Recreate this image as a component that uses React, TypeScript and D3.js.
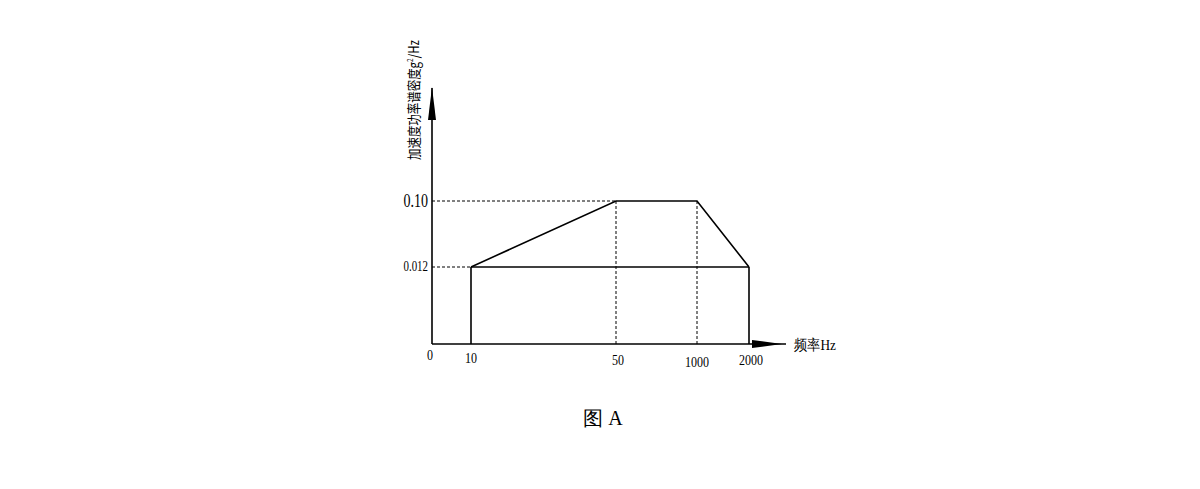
import React from "react";
import * as d3 from "d3";

const freqs = [0, 10, 50, 1000, 2000];
const freqLabels = ["0", "10", "50", "1000", "2000"];
const levels = [0, 0.012, 0.1];
const levelLabels = ["0.10", "0.012"];
const profile: [number, number][] = [
  [10, 0.012],
  [50, 0.1],
  [1000, 0.1],
  [2000, 0.012],
];
const yLabel = "加速度功率谱密度g";
const xLabel = "频率Hz";
const caption = "图 A";

export default function App() {
  const x = d3.scaleLinear().domain(freqs).range([432, 471, 616, 697, 749]);
  const y = d3.scaleLinear().domain(levels).range([344, 267, 201]);
  const line = d3
    .line<[number, number]>()
    .x((d) => x(d[0]))
    .y((d) => y(d[1]));
  const serif = "'Liberation Serif', 'DejaVu Serif', serif";
  const stroke = "#000";
  const labelDy = [11, 14, 16, 18, 16];
  const labelDx = [-2, 0, 2, 0, 2];
  return (
    <svg
      width={1200}
      height={489}
      style={{ position: "absolute", left: 0, top: 0, background: "#fff" }}
    >
      {/* dashed guides */}
      <g stroke={stroke} strokeWidth={1} strokeDasharray="3,2" fill="none">
        <line x1={x(0)} x2={x(50)} y1={y(0.1)} y2={y(0.1)} />
        <line x1={x(0)} x2={x(10)} y1={y(0.012)} y2={y(0.012)} />
        <line x1={x(50)} x2={x(50)} y1={y(0.1)} y2={y(0)} />
        <line x1={x(1000)} x2={x(1000)} y1={y(0.1)} y2={y(0)} />
      </g>
      {/* solid profile */}
      <g stroke={stroke} strokeWidth={1.6} fill="none">
        <path d={line(profile) || ""} />
        <line x1={x(10)} x2={x(2000)} y1={y(0.012)} y2={y(0.012)} />
        <line x1={x(10)} x2={x(10)} y1={y(0.012)} y2={y(0)} />
        <line x1={x(2000)} x2={x(2000)} y1={y(0.012)} y2={y(0)} />
      </g>
      {/* axes */}
      <g stroke={stroke} strokeWidth={1.6} fill="none">
        <line x1={x(0)} x2={x(0)} y1={y(0)} y2={88} />
        <line x1={x(0)} x2={786} y1={y(0)} y2={y(0)} />
      </g>
      <path d={`M${x(0)},87 L${x(0) - 4},120 L${x(0) + 4},120 Z`} fill={stroke} />
      <path
        d={`M782,${y(0)} L752,${y(0) - 4} L752,${y(0) + 4} Z`}
        fill={stroke}
      />
      {/* y tick labels */}
      <g transform={`translate(428,${y(0.1)}) scale(0.78,1)`}>
        <text
          textAnchor="end"
          dominantBaseline="central"
          fontFamily={serif}
          fontSize={18}
          fill="#000"
        >
          {levelLabels[0]}
        </text>
      </g>
      <g transform={`translate(428,${y(0.012)}) scale(0.78,1)`}>
        <text
          textAnchor="end"
          dominantBaseline="central"
          fontFamily={serif}
          fontSize={14}
          fill="#000"
        >
          {levelLabels[1]}
        </text>
      </g>
      {/* x tick labels */}
      {freqs.map((f, i) => (
        <g
          key={f}
          transform={`translate(${x(f) + labelDx[i]},${y(0) + labelDy[i]}) scale(0.8,1)`}
        >
          <text
            textAnchor="middle"
            dominantBaseline="central"
            fontFamily={serif}
            fontSize={15}
            fill="#000"
          >
            {freqLabels[i]}
          </text>
        </g>
      ))}
      {/* x label */}
      <text
        x={794}
        y={y(0) + 1}
        dominantBaseline="central"
        fontFamily={serif}
        fontSize={15}
        fill="#000"
        textLength={42}
        lengthAdjust="spacingAndGlyphs"
      >
        {xLabel}
      </text>
      {/* y label */}
      <text
        transform="translate(419,160) rotate(-90)"
        fontFamily="'Noto Sans CJK SC', sans-serif"
        fontSize={14}
        fill="#000"
        textLength={120}
        lengthAdjust="spacingAndGlyphs"
      >
        <tspan>{yLabel}</tspan>
        <tspan fontSize={8} dy={-6}>2</tspan>
        <tspan dy={6}>/Hz</tspan>
      </text>
      {/* caption */}
      <text
        x={603}
        y={418}
        textAnchor="middle"
        dominantBaseline="central"
        fontFamily={serif}
        fontSize={20}
        fill="#000"
      >
        {caption}
      </text>
    </svg>
  );
}
